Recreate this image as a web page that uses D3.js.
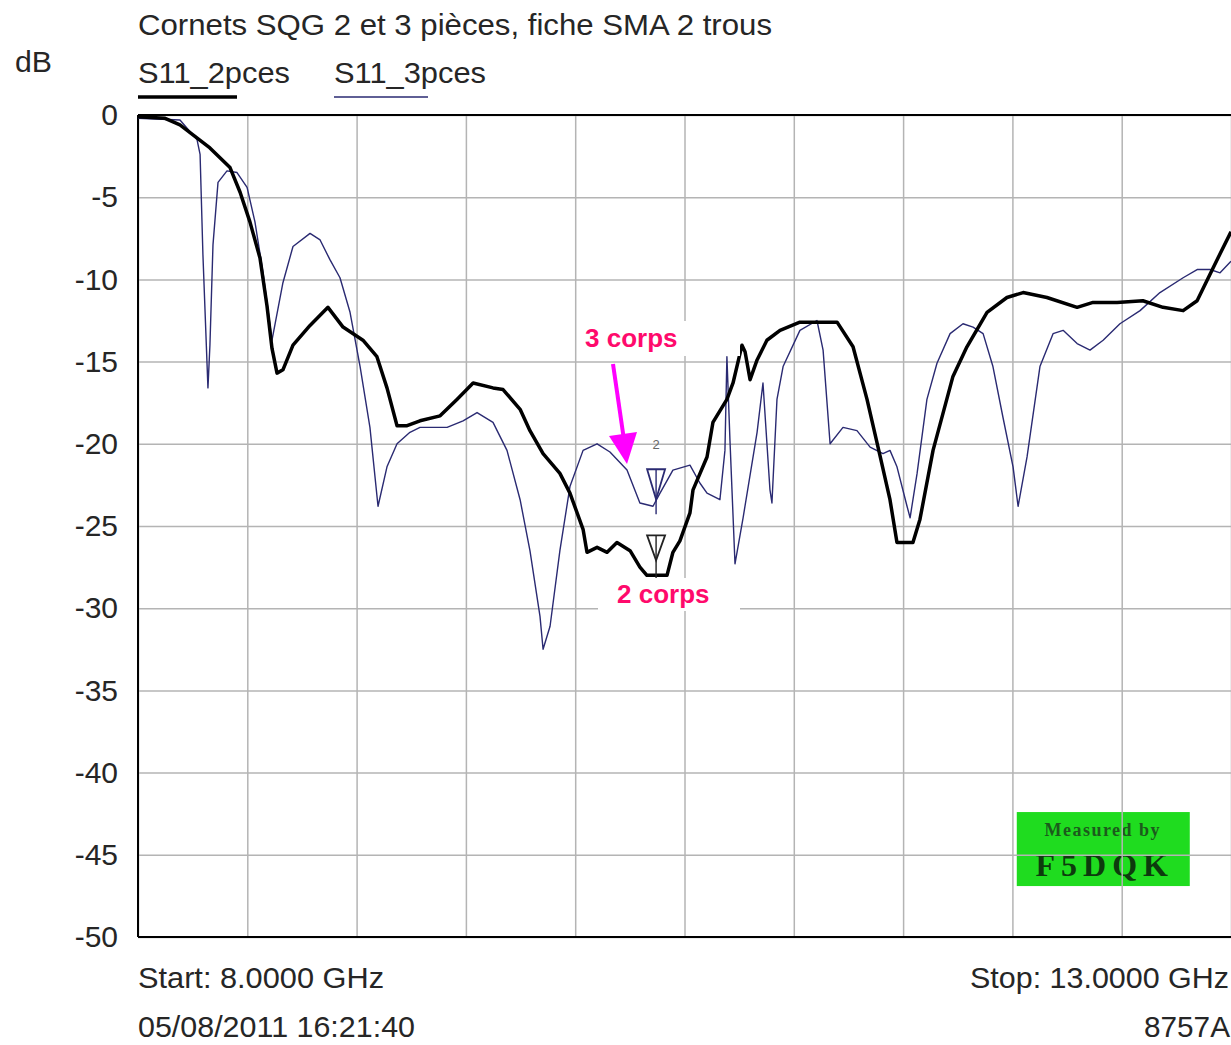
<!DOCTYPE html>
<html>
<head>
<meta charset="utf-8">
<script src="https://cdn.jsdelivr.net/npm/d3@7"></script>
<style>
  body { margin: 0; background: #fff; }
  svg { display: block; font-family: "Liberation Sans", Arial, sans-serif; }
</style>
</head>
<body>
<div id="chart"></div>
<script>
var freq2 = [8.000, 8.124, 8.192, 8.329, 8.421, 8.467, 8.512, 8.558, 8.590, 8.613,
  8.636, 8.663, 8.709, 8.787, 8.869, 8.938, 9.029, 9.093, 9.139, 9.185,
  9.231, 9.290, 9.382, 9.459, 9.533, 9.624, 9.670, 9.748, 9.793, 9.853,
  9.930, 9.976, 10.036, 10.054, 10.100, 10.146, 10.191, 10.251, 10.296, 10.328,
  10.420, 10.447, 10.479, 10.525, 10.539, 10.603, 10.630, 10.694, 10.722, 10.763,
  10.777, 10.800, 10.832, 10.877, 10.937, 11.028, 11.198, 11.271, 11.335, 11.394,
  11.440, 11.472, 11.545, 11.577, 11.637, 11.728, 11.792, 11.884, 11.975, 12.049,
  12.158, 12.296, 12.369, 12.479, 12.597, 12.689, 12.781, 12.845, 12.918, 13.000];
var s11_2pces = [-0.1, -0.2, -0.6, -2.0, -3.2, -4.7, -6.5, -8.7, -11.6, -14.2,
  -15.7, -15.5, -14.0, -12.8, -11.7, -12.9, -13.7, -14.7, -16.6, -18.9,
  -18.9, -18.6, -18.3, -17.3, -16.3, -16.6, -16.7, -17.9, -19.2, -20.6,
  -21.8, -23.0, -25.2, -26.6, -26.3, -26.6, -26.0, -26.5, -27.5, -28.0,
  -28.0, -26.6, -25.9, -24.2, -22.8, -20.8, -18.7, -17.3, -16.3, -14.0,
  -14.4, -16.1, -14.9, -13.7, -13.1, -12.6, -12.6, -14.1, -17.3, -20.7,
  -23.4, -26.0, -26.0, -24.6, -20.4, -15.9, -14.1, -12.0, -11.1, -10.8,
  -11.1, -11.7, -11.4, -11.4, -11.3, -11.7, -11.9, -11.3, -9.3, -7.1];

var freq3 = [8.000, 8.192, 8.270, 8.284, 8.297, 8.320, 8.329, 8.343, 8.366, 8.407,
  8.453, 8.499, 8.535, 8.572, 8.613, 8.663, 8.709, 8.787, 8.833, 8.878,
  8.924, 8.970, 9.016, 9.061, 9.098, 9.139, 9.185, 9.244, 9.290, 9.414,
  9.487, 9.551, 9.624, 9.688, 9.748, 9.793, 9.839, 9.853, 9.885, 9.930,
  9.976, 10.036, 10.100, 10.159, 10.237, 10.296, 10.356, 10.388, 10.447, 10.525,
  10.571, 10.603, 10.662, 10.685, 10.694, 10.708, 10.731, 10.768, 10.832, 10.859,
  10.891, 10.900, 10.923, 10.951, 11.028, 11.106, 11.134, 11.166, 11.225, 11.289,
  11.349, 11.408, 11.440, 11.472, 11.518, 11.532, 11.564, 11.609, 11.655, 11.715,
  11.774, 11.820, 11.866, 11.911, 11.957, 12.003, 12.026, 12.067, 12.126, 12.186,
  12.232, 12.296, 12.355, 12.415, 12.492, 12.584, 12.675, 12.781, 12.845, 12.904,
  12.950, 13.000];
var s11_3pces = [-0.2, -0.3, -1.5, -2.4, -8.5, -16.6, -14.0, -7.9, -4.1, -3.4,
  -3.5, -4.4, -6.5, -9.6, -13.7, -10.2, -8.0, -7.2, -7.6, -8.8,
  -9.9, -12.0, -15.3, -19.0, -23.8, -21.4, -20.0, -19.3, -19.0, -19.0,
  -18.6, -18.1, -18.7, -20.4, -23.4, -26.5, -30.5, -32.5, -31.1, -26.5,
  -22.6, -20.4, -20.0, -20.5, -21.6, -23.6, -23.8, -23.0, -21.6, -21.3,
  -22.4, -23.0, -23.4, -20.4, -14.7, -19.8, -27.3, -24.5, -19.3, -16.3,
  -22.8, -23.6, -17.3, -15.3, -13.1, -12.5, -14.3, -20.0, -19.0, -19.2,
  -20.2, -20.6, -20.4, -21.4, -23.8, -24.5, -21.8, -17.3, -15.1, -13.3,
  -12.7, -12.9, -13.3, -15.3, -18.4, -21.4, -23.8, -20.8, -15.3, -13.3,
  -13.1, -13.9, -14.3, -13.7, -12.7, -11.9, -10.8, -9.9, -9.4, -9.4,
  -9.6, -8.9];

var yTicks = [0, -5, -10, -15, -20, -25, -30, -35, -40, -45, -50];
var xGrid = [8, 8.5, 9, 9.5, 10, 10.5, 11, 11.5, 12, 12.5, 13];
var seriesNames = ["S11_2pces", "S11_3pces"];
var markerFreq = 10.37;
var markerLevels = [-28.0, -23.8];

var W = 1231, H = 1045;
var margin = {top: 115, right: 0, bottom: 108, left: 138},
    width = W - margin.left - margin.right,
    height = H - margin.top - margin.bottom;

var svg = d3.select("#chart").append("svg")
    .attr("width", W)
    .attr("height", H);

var x = d3.scaleLinear().domain([8, 13]).range([margin.left, margin.left + width]);
var y = d3.scaleLinear().domain([0, -50]).range([margin.top, margin.top + 822]);

var gridColor = "#b4b4b4";
var textColor = "#262626";

// cadre "Measured by" (sous la grille)
var bx = x(12.02), by = y(-42.4);
var badge = svg.append("g");
badge.append("rect")
  .attr("x", bx).attr("y", by)
  .attr("width", 173).attr("height", 74)
  .attr("fill", "#1fdc1f");
badge.append("text")
  .attr("x", bx + 86).attr("y", by + 24)
  .attr("text-anchor", "middle")
  .style("font-family", "'Liberation Serif', serif")
  .style("font-weight", "bold")
  .style("font-size", "18px")
  .style("letter-spacing", "1.5px")
  .attr("fill", "#1c5a1c")
  .text("Measured by");
badge.append("text")
  .attr("x", bx + 88).attr("y", by + 64)
  .attr("text-anchor", "middle")
  .style("font-family", "'Liberation Serif', serif")
  .style("font-weight", "bold")
  .style("font-size", "32px")
  .style("letter-spacing", "6px")
  .attr("fill", "#0d3a0d")
  .text("F5DQK");

// grille horizontale + libellés dB
svg.append("g")
  .attr("class", "axis y")
  .attr("transform", "translate(" + margin.left + ",0)")
  .call(d3.axisLeft(y).tickValues(yTicks).tickSize(-width).tickFormat(function(d) { return String(d); }))
  .call(function(g) { g.select(".domain").remove(); })
  .call(function(g) {
    g.selectAll(".tick line").attr("stroke", gridColor).attr("stroke-width", 1.5);
    g.selectAll(".tick text")
      .attr("fill", textColor)
      .style("font-size", "30px")
      .style("font-family", "'Liberation Sans', Arial, sans-serif")
      .attr("x", -20);
  });

// grille verticale
svg.append("g")
  .attr("class", "axis x")
  .attr("transform", "translate(0," + y(-50) + ")")
  .call(d3.axisBottom(x).tickValues(xGrid).tickSize(-(y(-50) - y(0))).tickFormat(""))
  .call(function(g) { g.select(".domain").remove(); })
  .call(function(g) { g.selectAll(".tick line").attr("stroke", gridColor).attr("stroke-width", 1.5); });

// cadre
svg.append("line").attr("x1", x(8)).attr("x2", x(13)).attr("y1", y(0)).attr("y2", y(0))
  .attr("stroke", "#000").attr("stroke-width", 2);
svg.append("line").attr("x1", x(8)).attr("x2", x(13)).attr("y1", y(-50)).attr("y2", y(-50))
  .attr("stroke", "#000").attr("stroke-width", 2);
svg.append("line").attr("x1", x(8)).attr("x2", x(8)).attr("y1", y(0)).attr("y2", y(-50))
  .attr("stroke", "#000").attr("stroke-width", 2);

var line = d3.line()
  .x(function(d) { return x(d[0]); })
  .y(function(d) { return y(d[1]); });

var data3 = d3.zip(freq3, s11_3pces);
var data2 = d3.zip(freq2, s11_2pces);

svg.append("path")
  .datum(data3)
  .attr("d", line)
  .attr("fill", "none")
  .attr("stroke", "#2a2a72")
  .attr("stroke-width", 1.4)
  .attr("stroke-linejoin", "round");

svg.append("path")
  .datum(data2)
  .attr("d", line)
  .attr("fill", "none")
  .attr("stroke", "#000")
  .attr("stroke-width", 3.5)
  .attr("stroke-linejoin", "round");

// marqueurs 2
markerLevels.forEach(function(lv, i) {
  var mx = x(markerFreq), my = y(lv);
  var col = i === 0 ? "#222" : "#2a2a72";
  var top = my - (i === 0 ? 40 : 37), tip = my - (i === 0 ? 15 : 7);
  svg.append("path")
    .attr("d", "M" + (mx - 9) + "," + top + "L" + (mx + 9) + "," + top + "L" + mx + "," + tip + "Z")
    .attr("fill", "#fff").attr("fill-opacity", 0.6).attr("stroke", col).attr("stroke-width", 1.8);
  svg.append("line")
    .attr("x1", mx).attr("x2", mx).attr("y1", top).attr("y2", my + 8)
    .attr("stroke", col).attr("stroke-width", 1.4);
});
svg.append("text")
  .attr("x", x(markerFreq)).attr("y", y(markerLevels[1]) - 57)
  .attr("text-anchor", "middle")
  .style("font-size", "13px")
  .attr("fill", "#666")
  .text("2");

// annotations
svg.append("rect").attr("x", 578).attr("y", 321).attr("width", 162).attr("height", 35).attr("fill", "#fff");
svg.append("text").attr("x", 585).attr("y", 347)
  .style("font-size", "26px").style("font-weight", "bold")
  .attr("fill", "#ff0a6c").text("3 corps");
svg.append("rect").attr("x", 598).attr("y", 578).attr("width", 142).attr("height", 33).attr("fill", "#fff");
svg.append("text").attr("x", 617).attr("y", 603)
  .style("font-size", "26px").style("font-weight", "bold")
  .attr("fill", "#ff0a6c").text("2 corps");

svg.append("line").attr("x1", 613).attr("y1", 364).attr("x2", 624).attr("y2", 440)
  .attr("stroke", "#ff00ff").attr("stroke-width", 4);
svg.append("path").attr("d", "M609,436 L637,432 L627,464 Z").attr("fill", "#ff00ff");

// textes
function label(txt, xx, yy, len, anchor) {
  var t = svg.append("text").attr("x", xx).attr("y", yy)
    .style("font-size", "30px").attr("fill", textColor)
    .attr("text-anchor", anchor || "start")
    .text(txt);
  if (len) t.attr("textLength", len).attr("lengthAdjust", "spacingAndGlyphs");
  return t;
}
label("Cornets SQG 2 et 3 pièces, fiche SMA 2 trous", 138, 35, 634);
label("dB", 15, 72, 37);

var legendX = [138, 334], legendLine = [99, 94], legendCol = ["#000", "#2a2a72"], legendW = [3.5, 1.6];
seriesNames.forEach(function(n, i) {
  label(n, legendX[i], 83, 152);
  svg.append("line").attr("x1", legendX[i]).attr("x2", legendX[i] + legendLine[i])
    .attr("y1", 97).attr("y2", 97)
    .attr("stroke", legendCol[i]).attr("stroke-width", legendW[i]);
});

label("Start: 8.0000 GHz", 138, 988, 246);
label("Stop: 13.0000 GHz", 970, 988, 259);
label("05/08/2011 16:21:40", 138, 1037, 277);
label("8757A", 1230, 1037, 86, "end");
</script>
</body>
</html>
